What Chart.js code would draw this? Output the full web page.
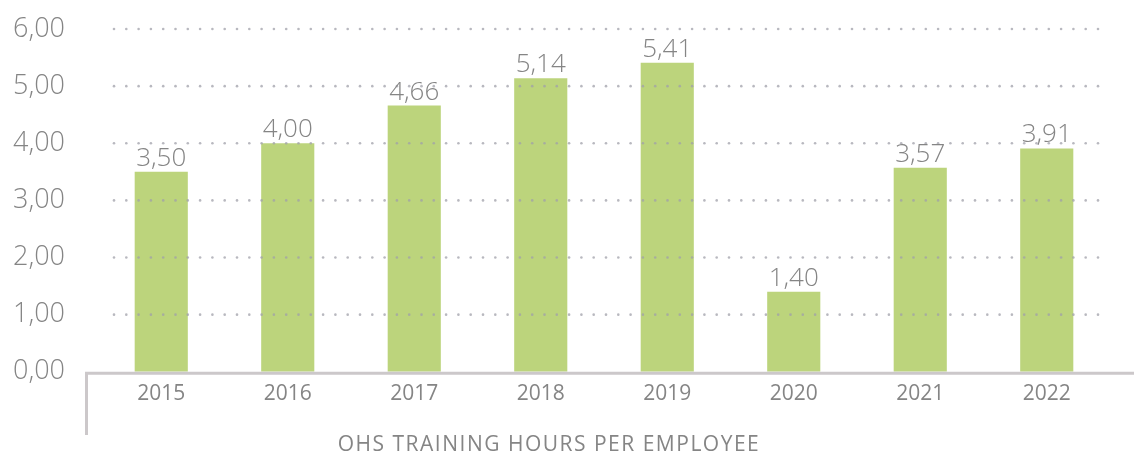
<!DOCTYPE html>
<html>
<head>
<meta charset="utf-8">
<script src="https://cdn.jsdelivr.net/npm/chart.js@4/dist/chart.umd.min.js"></script>
<style>
  html, body { margin: 0; padding: 0; background: #fff; }
  #wrap { width: 1134px; height: 459px; position: relative; }
</style>
</head>
<body>
<div id="wrap"><canvas id="grafico"></canvas></div>
<script>
const anos = ['2015', '2016', '2017', '2018', '2019', '2020', '2021', '2022'];
const horas = [3.50, 4.00, 4.66, 5.14, 5.41, 1.40, 3.57, 3.91];
const marcasY = [0, 1, 2, 3, 4, 5, 6];
const tituloEixo = 'OHS TRAINING HOURS PER EMPLOYEE';

const corTexto = '#858585';
const corBarra = '#bcd47c';
const fonte = "'Open Sans', sans-serif";

function formatar(v) {
    return v.toFixed(2).replace('.', ',');
}

// linhas pontilhadas, eixo e rótulos desenhados por cima das barras
const extras = {
    id: 'extras',
    afterDatasetsDraw(chart) {
        const ctx = chart.ctx;
        const area = chart.chartArea;
        const y = chart.scales.y;

        ctx.save();
        ctx.fillStyle = 'rgba(160,160,170,0.75)';
        marcasY.forEach(v => {
            if (v === 0) return;
            const py = y.getPixelForValue(v);
            for (let px = area.left + 16; px <= area.right - 8; px += 12.3) {
                ctx.beginPath();
                ctx.arc(px, py, 1.3, 0, Math.PI * 2);
                ctx.fill();
            }
        });

        // eixo horizontal e traço vertical
        const y0 = y.getPixelForValue(0);
        ctx.strokeStyle = '#ccc8ca';
        ctx.lineWidth = 3;
        ctx.beginPath();
        ctx.moveTo(chart.width, y0 + 1.5);
        ctx.lineTo(86.5, y0 + 1.5);
        ctx.lineTo(86.5, 435);
        ctx.stroke();

        // valores acima das barras
        ctx.fillStyle = corTexto;
        ctx.font = "300 26px " + fonte;
        ctx.textAlign = 'center';
        ctx.textBaseline = 'alphabetic';
        const meta = chart.getDatasetMeta(0);
        meta.data.forEach((bar, i) => {
            ctx.fillText(formatar(horas[i]), bar.x, bar.y - 6);
        });

        // título
        ctx.font = "400 21px " + fonte;
        ctx.letterSpacing = '1.5px';
        ctx.textBaseline = 'middle';
        ctx.fillText(tituloEixo, 549, 445);
        ctx.restore();
    }
};

new Chart(document.getElementById('grafico').getContext('2d'), {
    type: 'bar',
    data: {
        labels: anos,
        datasets: [{
            data: horas,
            backgroundColor: corBarra,
            borderWidth: 0,
            barPercentage: 0.42,
            categoryPercentage: 1.0
        }]
    },
    options: {
        responsive: true,
        maintainAspectRatio: false,
        animation: false,
        layout: {
            padding: { left: 8, right: 24, top: 29, bottom: 42 }
        },
        plugins: {
            legend: { display: false },
            tooltip: { enabled: false }
        },
        scales: {
            x: {
                grid: { display: false, drawTicks: false },
                border: { display: false },
                ticks: {
                    color: corTexto,
                    padding: 10,
                    font: { size: 21, family: fonte }
                }
            },
            y: {
                min: 0,
                max: 6,
                afterBuildTicks(axis) {
                    axis.ticks = marcasY.map(v => ({ value: v }));
                },
                afterFit(axis) {
                    axis.width = 90;
                    axis.paddingTop = 0;
                    axis.paddingBottom = 0;
                },
                grid: { display: false, drawTicks: false },
                border: { display: false },
                ticks: {
                    color: corTexto,
                    padding: 33,
                    font: { size: 27, family: fonte, weight: 300 },
                    callback: v => formatar(v)
                }
            }
        }
    },
    plugins: [extras]
});
</script>
</body>
</html>
